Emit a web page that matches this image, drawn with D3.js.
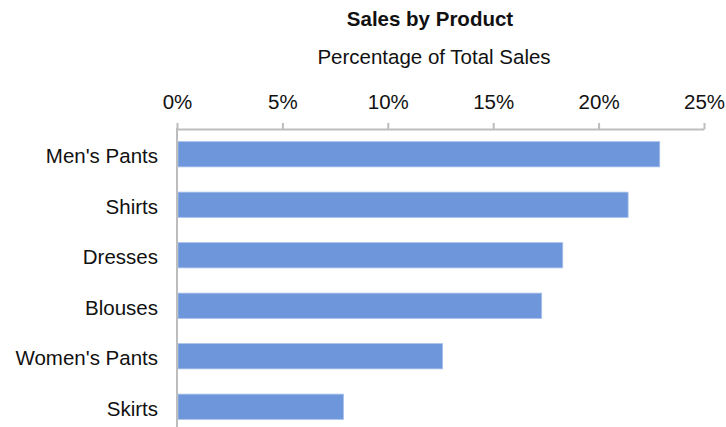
<!DOCTYPE html>
<html>
<head>
<meta charset="utf-8">
<script src="https://cdn.jsdelivr.net/npm/d3@7"></script>
<style>
  html, body { margin: 0; padding: 0; background: #fff; }
  svg { display: block; font-family: "Liberation Sans", Arial, sans-serif; }
</style>
</head>
<body>
<svg id="chart" width="726" height="427"></svg>
<script>
// Share of total sales by product line
const products = ["Men's Pants", "Shirts", "Dresses", "Blouses", "Women's Pants", "Skirts"];
const shares = [22.9, 21.4, 18.3, 17.3, 12.6, 7.9];
const tickValues = [0, 5, 10, 15, 20, 25];

const svg = d3.select("#chart");
const margin = { left: 177, right: 22, top: 129 };
const width = 726;
const fontSize = 20.5;

const x = d3.scaleLinear()
  .domain([0, 25])
  .range([margin.left, width - margin.right]);

const y = d3.scaleBand()
  .domain(products)
  .range([margin.top, margin.top + 303])
  .paddingInner(0.5)
  .paddingOuter(0.25);

// Titles
svg.append("text")
  .attr("x", 430).attr("y", 26)
  .attr("text-anchor", "middle")
  .attr("font-size", fontSize).attr("font-weight", "bold")
  .attr("fill", "#111")
  .text("Sales by Product");

svg.append("text")
  .attr("x", 434).attr("y", 64)
  .attr("text-anchor", "middle")
  .attr("font-size", fontSize)
  .attr("fill", "#111")
  .text("Percentage of Total Sales");

// Bars
svg.append("g").selectAll("rect")
  .data(products)
  .join("rect")
  .attr("x", x(0) + 1)
  .attr("y", d => y(d))
  .attr("width", (d, i) => x(shares[i]) - x(0) - 1)
  .attr("height", y.bandwidth())
  .attr("fill", "#6e96db")
  .attr("stroke", "#a9c0ec")
  .attr("stroke-width", 0.8);

// Top axis
const xAxis = d3.axisTop(x)
  .tickValues(tickValues)
  .tickFormat(d => d + "%")
  .tickSize(6)
  .tickSizeOuter(0)
  .tickPadding(14);

const gx = svg.append("g")
  .attr("transform", `translate(0,${margin.top})`)
  .call(xAxis);
gx.select(".domain").attr("stroke", "#bdbdbd").attr("stroke-width", 2);
gx.selectAll(".tick line").attr("stroke", "#bdbdbd").attr("stroke-width", 2);
gx.selectAll(".tick text")
  .attr("font-size", fontSize)
  .attr("fill", "#111")
  .attr("font-family", "Liberation Sans, Arial, sans-serif");

// Left axis
const yAxis = d3.axisLeft(y).tickSize(0).tickPadding(19);
const gy = svg.append("g")
  .attr("transform", `translate(${x(0)},0)`)
  .call(yAxis);
gy.select(".domain")
  .attr("d", `M0,${margin.top - 1}V${margin.top + 303}`)
  .attr("stroke", "#bdbdbd").attr("stroke-width", 2);
gy.selectAll(".tick text")
  .attr("font-size", fontSize)
  .attr("dy", "0.45em")
  .attr("fill", "#111")
  .attr("font-family", "Liberation Sans, Arial, sans-serif");
</script>
</body>
</html>
